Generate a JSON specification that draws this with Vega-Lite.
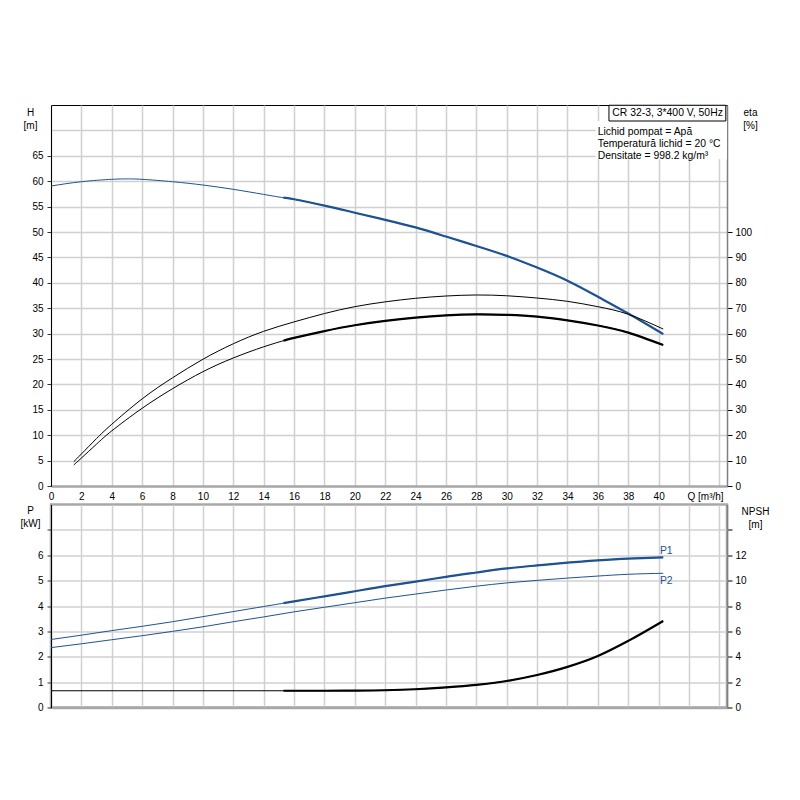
{
  "$schema": "https://vega.github.io/schema/vega-lite/v6.json",
  "padding": {"left": 18, "top": 104, "right": 5, "bottom": 5},
  "background": "#ffffff",
  "config": {
    "font": "Liberation Sans",
    "axis": {"labelFont": "Liberation Sans", "labelFontSize": 10, "labelColor": "#000", "titleFont": "Liberation Sans", "titleFontSize": 10, "titleFontWeight": "normal", "titleColor": "#000", "gridColor": "#d0d0d0", "gridWidth": 1.5, "tickCount": 100, "labelOverlap": false, "format": "d"},
    "text": {"font": "Liberation Sans", "fontSize": 10.4}
  },
  "datasets": {
    "curves": [
      {"c":"H","q":0,"v":59.05},{"c":"H","q":2,"v":59.9},{"c":"H","q":4,"v":60.37},{"c":"H","q":5,"v":60.45},{"c":"H","q":6,"v":60.37},{"c":"H","q":8,"v":59.9},{"c":"H","q":10,"v":59.25},{"c":"H","q":12,"v":58.4},{"c":"H","q":14,"v":57.4},{"c":"H","q":15.3,"v":56.75},{"c":"H","q":16,"v":56.45},{"c":"H","q":18,"v":55.2},{"c":"H","q":20,"v":53.8},{"c":"H","q":22,"v":52.4},{"c":"H","q":24,"v":50.9},{"c":"H","q":26,"v":49.1},{"c":"H","q":28,"v":47.25},{"c":"H","q":30,"v":45.3},{"c":"H","q":32,"v":43.0},{"c":"H","q":34,"v":40.4},{"c":"H","q":36,"v":37.25},{"c":"H","q":38,"v":33.95},{"c":"H","q":40.3,"v":29.9},
      {"c":"eta1","q":1.5,"v":9.6},{"c":"eta1","q":2,"v":12.6},{"c":"eta1","q":3,"v":18.7},{"c":"eta1","q":4,"v":24.3},{"c":"eta1","q":6,"v":34.3},{"c":"eta1","q":8,"v":42.6},{"c":"eta1","q":10,"v":49.9},{"c":"eta1","q":12,"v":56.0},{"c":"eta1","q":14,"v":60.9},{"c":"eta1","q":16,"v":64.6},{"c":"eta1","q":18,"v":67.9},{"c":"eta1","q":20,"v":70.6},{"c":"eta1","q":22,"v":72.5},{"c":"eta1","q":24,"v":73.9},{"c":"eta1","q":26,"v":74.8},{"c":"eta1","q":28,"v":75.2},{"c":"eta1","q":30,"v":74.9},{"c":"eta1","q":32,"v":74.0},{"c":"eta1","q":34,"v":72.7},{"c":"eta1","q":36,"v":70.6},{"c":"eta1","q":38,"v":67.6},{"c":"eta1","q":40.3,"v":61.8},
      {"c":"eta2","q":1.5,"v":8.3},{"c":"eta2","q":2,"v":11.0},{"c":"eta2","q":3,"v":16.5},{"c":"eta2","q":4,"v":21.7},{"c":"eta2","q":6,"v":30.6},{"c":"eta2","q":8,"v":38.3},{"c":"eta2","q":10,"v":45.0},{"c":"eta2","q":12,"v":50.4},{"c":"eta2","q":14,"v":54.8},{"c":"eta2","q":15.3,"v":57.2},{"c":"eta2","q":16,"v":58.3},{"c":"eta2","q":18,"v":61.0},{"c":"eta2","q":20,"v":63.3},{"c":"eta2","q":22,"v":65.0},{"c":"eta2","q":24,"v":66.3},{"c":"eta2","q":26,"v":67.2},{"c":"eta2","q":28,"v":67.6},{"c":"eta2","q":30,"v":67.4},{"c":"eta2","q":32,"v":66.7},{"c":"eta2","q":34,"v":65.2},{"c":"eta2","q":36,"v":63.2},{"c":"eta2","q":38,"v":60.4},{"c":"eta2","q":40.3,"v":55.5},
      {"c":"P1","q":0,"v":2.68},{"c":"P1","q":2,"v":2.85},{"c":"P1","q":4,"v":3.03},{"c":"P1","q":6,"v":3.2},{"c":"P1","q":8,"v":3.38},{"c":"P1","q":10,"v":3.58},{"c":"P1","q":12,"v":3.78},{"c":"P1","q":14,"v":3.98},{"c":"P1","q":15.3,"v":4.11},{"c":"P1","q":16,"v":4.18},{"c":"P1","q":18,"v":4.38},{"c":"P1","q":20,"v":4.58},{"c":"P1","q":22,"v":4.78},{"c":"P1","q":24,"v":4.96},{"c":"P1","q":26,"v":5.15},{"c":"P1","q":28,"v":5.32},{"c":"P1","q":30,"v":5.48},{"c":"P1","q":32,"v":5.6},{"c":"P1","q":34,"v":5.71},{"c":"P1","q":36,"v":5.8},{"c":"P1","q":38,"v":5.87},{"c":"P1","q":40.3,"v":5.92},
      {"c":"P2","q":0,"v":2.36},{"c":"P2","q":2,"v":2.51},{"c":"P2","q":4,"v":2.67},{"c":"P2","q":6,"v":2.83},{"c":"P2","q":8,"v":3.0},{"c":"P2","q":10,"v":3.18},{"c":"P2","q":12,"v":3.38},{"c":"P2","q":14,"v":3.57},{"c":"P2","q":16,"v":3.77},{"c":"P2","q":18,"v":3.95},{"c":"P2","q":20,"v":4.13},{"c":"P2","q":22,"v":4.31},{"c":"P2","q":24,"v":4.47},{"c":"P2","q":26,"v":4.63},{"c":"P2","q":28,"v":4.78},{"c":"P2","q":30,"v":4.91},{"c":"P2","q":32,"v":5.01},{"c":"P2","q":34,"v":5.1},{"c":"P2","q":36,"v":5.18},{"c":"P2","q":38,"v":5.25},{"c":"P2","q":40.3,"v":5.29},
      {"c":"NPSH","q":0,"v":1.32},{"c":"NPSH","q":5,"v":1.32},{"c":"NPSH","q":10,"v":1.32},{"c":"NPSH","q":15.3,"v":1.32},{"c":"NPSH","q":18,"v":1.32},{"c":"NPSH","q":20,"v":1.33},{"c":"NPSH","q":22,"v":1.36},{"c":"NPSH","q":24,"v":1.44},{"c":"NPSH","q":26,"v":1.58},{"c":"NPSH","q":28,"v":1.78},{"c":"NPSH","q":30,"v":2.09},{"c":"NPSH","q":32,"v":2.56},{"c":"NPSH","q":34,"v":3.2},{"c":"NPSH","q":36,"v":4.06},{"c":"NPSH","q":38,"v":5.25},{"c":"NPSH","q":40.3,"v":6.82}
    ]
  },
  "data": {"name": "curves"},
  "bounds": "flush",
  "spacing": 18.5,
  "vconcat": [
    {
      "width": 676,
      "height": 381,
      "view": {"stroke": "#000", "strokeWidth": 1},
      "layer": [
        {
          "layer": [
            {
              "data": {"values": [{}]},
              "mark": {"type": "rect", "fill": "#ffffff"},
              "encoding": {
                "x": {"datum": 35.86, "type": "quantitative", "scale": {"domain": [0, 44.5], "nice": false},
                  "axis": {"values": [0,2,4,6,8,10,12,14,16,18,20,22,24,26,28,30,32,34,36,38,40,42,44], "tickCount": 100, "format": "d", "grid": true, "ticks": false, "tickSize": 0, "labelPadding": 5, "labelFlush": false, "labelOverlap": false, "labelBound": false, "domainColor": "#a8a8a8", "domainWidth": 2.5, "title": null,
                    "labelExpr": "datum.value == 42 ? 'Q [m³/h]' : (datum.value > 40 ? '' : datum.label)",
                    "labelAlign": {"condition": {"test": "datum.value == 42", "value": "left"}, "value": "center"},
                    "labelOffset": {"condition": {"test": "datum.value == 42", "value": -2}, "value": 0}}},
                "x2": {"datum": 44.5},
                "y": {"datum": 64.3, "type": "quantitative", "scale": {"domain": [0, 75], "nice": false},
                  "axis": {"values": [0,5,10,15,20,25,30,35,40,45,50,55,60,65,70], "tickCount": 100, "format": "d", "grid": true, "tickSize": 4, "labelPadding": 4, "domainColor": "#000", "domainWidth": 1,
                    "tickColor": {"condition": {"test": "datum.value > 65", "value": "transparent"}, "value": "#333"},
                    "labelExpr": "datum.value > 65 ? '' : datum.label",
                    "title": ["H", "[m]"], "titleAngle": 0, "titleAlign": "center", "titleBaseline": "alphabetic", "titleX": -21, "titleY": 10, "titleLineHeight": 13}},
                "y2": {"datum": 71.85}
              }
            },
            {
              "data": {"values": [{}]},
              "mark": {"type": "rect", "fill": "#ffffff", "stroke": "#000", "strokeWidth": 1},
              "encoding": {
                "x": {"datum": 36.73, "type": "quantitative"},
                "x2": {"datum": 44.42},
                "y": {"datum": 71.85, "type": "quantitative"},
                "y2": {"datum": 74.95}
              }
            },
            {
              "data": {"values": [{}]},
              "mark": {"type": "text", "text": "CR 32-3, 3*400 V, 50Hz", "align": "left", "baseline": "alphabetic", "color": "#000"},
              "encoding": {
                "x": {"datum": 36.95, "type": "quantitative"},
                "y": {"datum": 72.75, "type": "quantitative"}
              }
            },
            {
              "data": {"values": [{}]},
              "mark": {"type": "text", "text": ["Lichid pompat = Apă", "Temperatură lichid = 20 °C", "Densitate = 998.2 kg/m³"], "lineHeight": 12, "align": "left", "baseline": "alphabetic", "color": "#000"},
              "encoding": {
                "x": {"datum": 35.99, "type": "quantitative"},
                "y": {"datum": 69.05, "type": "quantitative"}
              }
            },
            {
              "transform": [{"filter": "datum.c === 'H'"}],
              "mark": {"type": "line", "color": "#1d5391", "strokeWidth": 1, "interpolate": "natural"},
              "encoding": {
                "x": {"field": "q", "type": "quantitative"},
                "y": {"field": "v", "type": "quantitative"}
              }
            },
            {
              "transform": [{"filter": "datum.c === 'H' && datum.q >= 15.3"}],
              "mark": {"type": "line", "color": "#1d5391", "strokeWidth": 2.2, "interpolate": "natural"},
              "encoding": {
                "x": {"field": "q", "type": "quantitative"},
                "y": {"field": "v", "type": "quantitative"}
              }
            }
          ]
        },
        {
          "layer": [
            {
              "transform": [{"filter": "datum.c === 'eta1'"}],
              "mark": {"type": "line", "color": "#000", "strokeWidth": 1, "interpolate": "natural"},
              "encoding": {
                "x": {"field": "q", "type": "quantitative"},
                "y": {"field": "v", "type": "quantitative", "scale": {"domain": [0, 150], "nice": false},
                  "axis": {"orient": "right", "values": [0,10,20,30,40,50,60,70,80,90,100], "tickCount": 100, "format": "d", "grid": false, "tickSize": 5, "tickColor": "#000", "labelPadding": 3, "domainColor": "#808080", "domainWidth": 1.5,
                    "title": ["eta", "[%]"], "titleAngle": 0, "titleAlign": "center", "titleBaseline": "alphabetic", "titleX": 23, "titleY": 10, "titleLineHeight": 13}}
              }
            },
            {
              "transform": [{"filter": "datum.c === 'eta2'"}],
              "mark": {"type": "line", "color": "#000", "strokeWidth": 1, "interpolate": "natural"},
              "encoding": {
                "x": {"field": "q", "type": "quantitative"},
                "y": {"field": "v", "type": "quantitative"}
              }
            },
            {
              "transform": [{"filter": "datum.c === 'eta2' && datum.q >= 15.3"}],
              "mark": {"type": "line", "color": "#000", "strokeWidth": 2.2, "interpolate": "natural"},
              "encoding": {
                "x": {"field": "q", "type": "quantitative"},
                "y": {"field": "v", "type": "quantitative"}
              }
            }
          ]
        }
      ],
      "resolve": {"scale": {"y": "independent"}}
    },
    {
      "width": 676,
      "height": 203,
      "view": {"stroke": "#a8a8a8", "strokeWidth": 2.5},
      "layer": [
        {
          "layer": [
            {
              "transform": [{"filter": "datum.c === 'P1'"}],
              "mark": {"type": "line", "color": "#1d5391", "strokeWidth": 1, "interpolate": "natural"},
              "encoding": {
                "x": {"field": "q", "type": "quantitative", "scale": {"domain": [0, 44.5], "nice": false},
                  "axis": {"values": [0,2,4,6,8,10,12,14,16,18,20,22,24,26,28,30,32,34,36,38,40,42,44], "tickCount": 100, "grid": true, "ticks": false, "labels": false, "tickSize": 0, "domainColor": "#a8a8a8", "domainWidth": 2.5, "title": null}},
                "y": {"field": "v", "type": "quantitative", "scale": {"domain": [0, 8], "nice": false},
                  "axis": {"values": [0,1,2,3,4,5,6,7], "tickCount": 100, "format": "d", "grid": true, "tickSize": 4, "labelPadding": 4, "domainColor": "#000", "domainWidth": 1,
                    "tickColor": "#333",
                    "labelExpr": "datum.value > 6 ? '' : datum.label",
                    "title": ["P", "[kW]"], "titleAngle": 0, "titleAlign": "center", "titleBaseline": "alphabetic", "titleX": -21, "titleY": 9, "titleLineHeight": 13}}
              }
            },
            {
              "transform": [{"filter": "datum.c === 'P1' && datum.q >= 15.3"}],
              "mark": {"type": "line", "color": "#1d5391", "strokeWidth": 2.2, "interpolate": "natural"},
              "encoding": {
                "x": {"field": "q", "type": "quantitative"},
                "y": {"field": "v", "type": "quantitative"}
              }
            },
            {
              "transform": [{"filter": "datum.c === 'P2'"}],
              "mark": {"type": "line", "color": "#1d5391", "strokeWidth": 1, "interpolate": "natural"},
              "encoding": {
                "x": {"field": "q", "type": "quantitative"},
                "y": {"field": "v", "type": "quantitative"}
              }
            },
            {
              "data": {"values": [{}]},
              "mark": {"type": "text", "text": "P1", "align": "center", "baseline": "alphabetic", "color": "#1d5391"},
              "encoding": {
                "x": {"datum": 40.5, "type": "quantitative"},
                "y": {"datum": 6.06, "type": "quantitative"}
              }
            },
            {
              "data": {"values": [{}]},
              "mark": {"type": "text", "text": "P2", "align": "center", "baseline": "alphabetic", "color": "#1d5391"},
              "encoding": {
                "x": {"datum": 40.5, "type": "quantitative"},
                "y": {"datum": 4.88, "type": "quantitative"}
              }
            }
          ]
        },
        {
          "layer": [
            {
              "transform": [{"filter": "datum.c === 'NPSH'"}],
              "mark": {"type": "line", "color": "#000", "strokeWidth": 1, "interpolate": "monotone"},
              "encoding": {
                "x": {"field": "q", "type": "quantitative"},
                "y": {"field": "v", "type": "quantitative", "scale": {"domain": [0, 16], "nice": false},
                  "axis": {"orient": "right", "values": [0,2,4,6,8,10,12,14], "tickCount": 100, "format": "d", "grid": false, "tickSize": 5, "tickColor": "#000", "labelPadding": 3, "domainColor": "#808080", "domainWidth": 1.5,
                    "labelExpr": "datum.value > 12 ? '' : datum.label",
                    "title": ["NPSH", "[m]"], "titleAngle": 0, "titleAlign": "center", "titleBaseline": "alphabetic", "titleX": 28, "titleY": 10, "titleLineHeight": 13}}
              }
            },
            {
              "transform": [{"filter": "datum.c === 'NPSH' && datum.q >= 15.3"}],
              "mark": {"type": "line", "color": "#000", "strokeWidth": 2.2, "interpolate": "monotone"},
              "encoding": {
                "x": {"field": "q", "type": "quantitative"},
                "y": {"field": "v", "type": "quantitative"}
              }
            }
          ]
        }
      ],
      "resolve": {"scale": {"y": "independent"}}
    }
  ]
}
